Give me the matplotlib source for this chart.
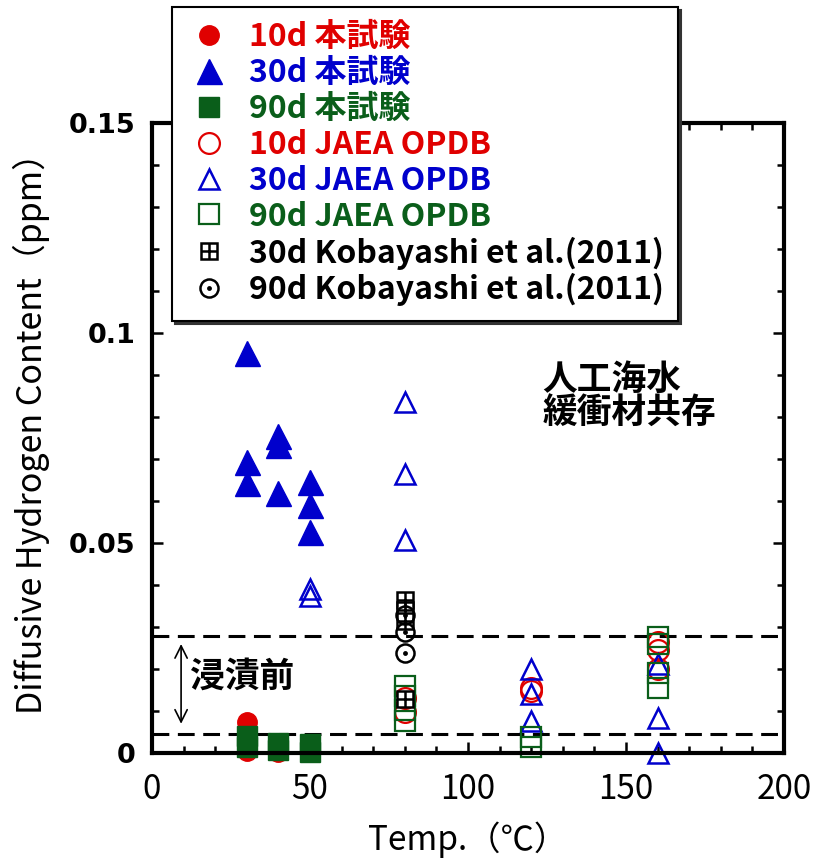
import matplotlib
matplotlib.use("Agg")
import matplotlib.pyplot as plt
from matplotlib.legend_handler import HandlerTuple

plt.rcParams['font.family'] = ['Noto Sans CJK JP', 'DejaVu Sans']

# データ (温度 ℃, 拡散性水素量 ppm)
x_10d_test = [30, 30, 40, 50]
y_10d_test = [0.0073, 0.0006, 0.0002, 0.0012]

x_30d_test = [30, 30, 30, 40, 40, 40, 50, 50, 50]
y_30d_test = [0.0951, 0.0693, 0.0643, 0.0754, 0.0734, 0.0618, 0.0645, 0.0591, 0.0527]

x_90d_test = [30, 30, 40, 40, 50, 50]
y_90d_test = [0.0040, 0.0015, 0.0025, 0.0008, 0.0022, 0.0003]

x_10d_jaea = [80, 80, 120, 120, 160, 160, 160]
y_10d_jaea = [0.0130, 0.0098, 0.0155, 0.0148, 0.0265, 0.0245, 0.0200]

x_30d_jaea = [50, 50, 80, 80, 80, 120, 120, 120, 160, 160, 160]
y_30d_jaea = [0.0390, 0.0373, 0.0836, 0.0665, 0.0506, 0.0199, 0.0140, 0.0077, 0.0213, 0.0084, 0.0000]

x_90d_jaea = [80, 80, 80, 80, 120, 120, 160, 160, 160, 160]
y_90d_jaea = [0.0160, 0.0135, 0.0102, 0.0077, 0.0037, 0.0014, 0.0275, 0.0260, 0.0190, 0.0155]

x_30d_koba = [80, 80, 80, 80]
y_30d_koba = [0.0364, 0.0340, 0.0315, 0.0128]

x_90d_koba = [80, 80, 80]
y_90d_koba = [0.0328, 0.0288, 0.0238]

# 浸漬前の範囲
before_lines = [0.0278, 0.0045]

x_ticks = [0, 50, 100, 150, 200]
x_ticklabels = ['0', '50', '100', '150', '200']
y_ticks = [0, 0.05, 0.1, 0.15]
y_ticklabels = ['0', '0.05', '0.1', '0.15']

labels = ['10d 本試験', '30d 本試験', '90d 本試験',
          '10d JAEA OPDB', '30d JAEA OPDB', '90d JAEA OPDB',
          '30d Kobayashi et al.(2011)', '90d Kobayashi et al.(2011)']

RED = '#E00000'
BLUE = '#0000CC'
GREEN = '#0A5E1A'

fig = plt.figure(figsize=(8.16, 8.61), dpi=100)
ax = fig.add_axes([0.1863, 0.1254, 0.7745, 0.7321])

kw = dict(ls='none', clip_on=False)
h1, = ax.plot(x_10d_test, y_10d_test, 'o', ms=14, color=RED, mec=RED, mew=1, **kw)
h2, = ax.plot(x_30d_test, y_30d_test, '^', ms=18, color=BLUE, mec=BLUE, mew=1, **kw)
h3, = ax.plot(x_90d_test, y_90d_test, 's', ms=15, color=GREEN, mec=GREEN, mew=1, **kw)
h4, = ax.plot(x_10d_jaea, y_10d_jaea, 'o', ms=15, mfc='none', mec=RED, mew=1.6, **kw)
h5, = ax.plot(x_30d_jaea, y_30d_jaea, '^', ms=14, mfc='none', mec=BLUE, mew=1.8, **kw)
h6, = ax.plot(x_90d_jaea, y_90d_jaea, 's', ms=14, mfc='none', mec=GREEN, mew=1.6, **kw)
h7a, = ax.plot(x_30d_koba, y_30d_koba, 's', ms=12, mfc='white', mec='k', mew=1.8, **kw)
h7b, = ax.plot(x_30d_koba, y_30d_koba, '+', ms=12, mec='k', mew=1.8, **kw)
h8a, = ax.plot(x_90d_koba, y_90d_koba, 'o', ms=13, mfc='none', mec='k', mew=1.8, **kw)
h8b, = ax.plot(x_90d_koba, y_90d_koba, 'o', ms=3.5, color='k', mew=0, **kw)

for yv in before_lines:
    ax.axhline(yv, color='k', lw=2.2, ls=(0, (5.5, 2.8)), zorder=1)

ax.annotate('', xy=(9.2, before_lines[1] + 0.0018), xytext=(9.2, before_lines[0] - 0.0012),
            arrowprops=dict(arrowstyle='<->', color='k', lw=1.2, mutation_scale=22))
ax.text(12, 0.0183, '浸漬前', fontsize=25, fontweight='bold', va='center', ha='left')

ax.text(123.5, 0.0889, '人工海水', fontsize=25, fontweight='bold', va='center', ha='left')
ax.text(123.5, 0.0808, '緩衝材共存', fontsize=25, fontweight='bold', va='center', ha='left')

ax.set_xlim(0, 200)
ax.set_ylim(0, 0.15)
ax.set_xticks(x_ticks, labels=x_ticklabels, fontsize=24,
              fontfamily=['Noto Sans CJK JP', 'DejaVu Sans'])
ax.set_yticks(y_ticks, labels=y_ticklabels, fontsize=19.5, fontweight='bold',
              fontfamily='DejaVu Sans')
ax.set_xticks(range(0, 201, 10), minor=True)
ax.set_yticks([i * 0.01 for i in range(16)], minor=True)
ax.tick_params(which='both', direction='in', top=True, right=True, width=1.8)
ax.tick_params(which='major', length=8)
ax.tick_params(which='minor', length=5)
ax.tick_params(axis='x', which='major', pad=14)
ax.tick_params(axis='y', which='major', pad=12)
for sp in ax.spines.values():
    sp.set_linewidth(3)

ax.set_xlabel('Temp.（℃）', fontsize=24, labelpad=10)
ax.set_ylabel('Diffusive Hydrogen Content（ppm）', fontsize=24.5)
ax.yaxis.set_label_coords(-0.162, 0.52)

handles = [h1, h2, h3, h4, h5, h6, (h7a, h7b), (h8a, h8b)]
leg = ax.legend(handles, labels, loc='upper left',
                bbox_to_anchor=(172 / 816, 1 - 7 / 861), bbox_transform=fig.transFigure,
                borderaxespad=0, borderpad=0.45, handlelength=1.4, handletextpad=0.55,
                labelspacing=0.12, fancybox=False, shadow={'ox': 2, 'oy': -2, 'color': '0.2', 'alpha': 1},
                edgecolor='k', framealpha=1,
                prop={'family': ['Noto Sans CJK JP', 'DejaVu Sans'], 'weight': 'bold', 'size': 23},
                handler_map={tuple: HandlerTuple(ndivide=1, pad=0)})
leg.get_frame().set_linewidth(1.5)
leg.set_zorder(10)
for txt, c in zip(leg.get_texts(), [RED, BLUE, GREEN, RED, BLUE, GREEN, 'k', 'k']):
    txt.set_color(c)

fig.savefig('out.png', dpi=100)
